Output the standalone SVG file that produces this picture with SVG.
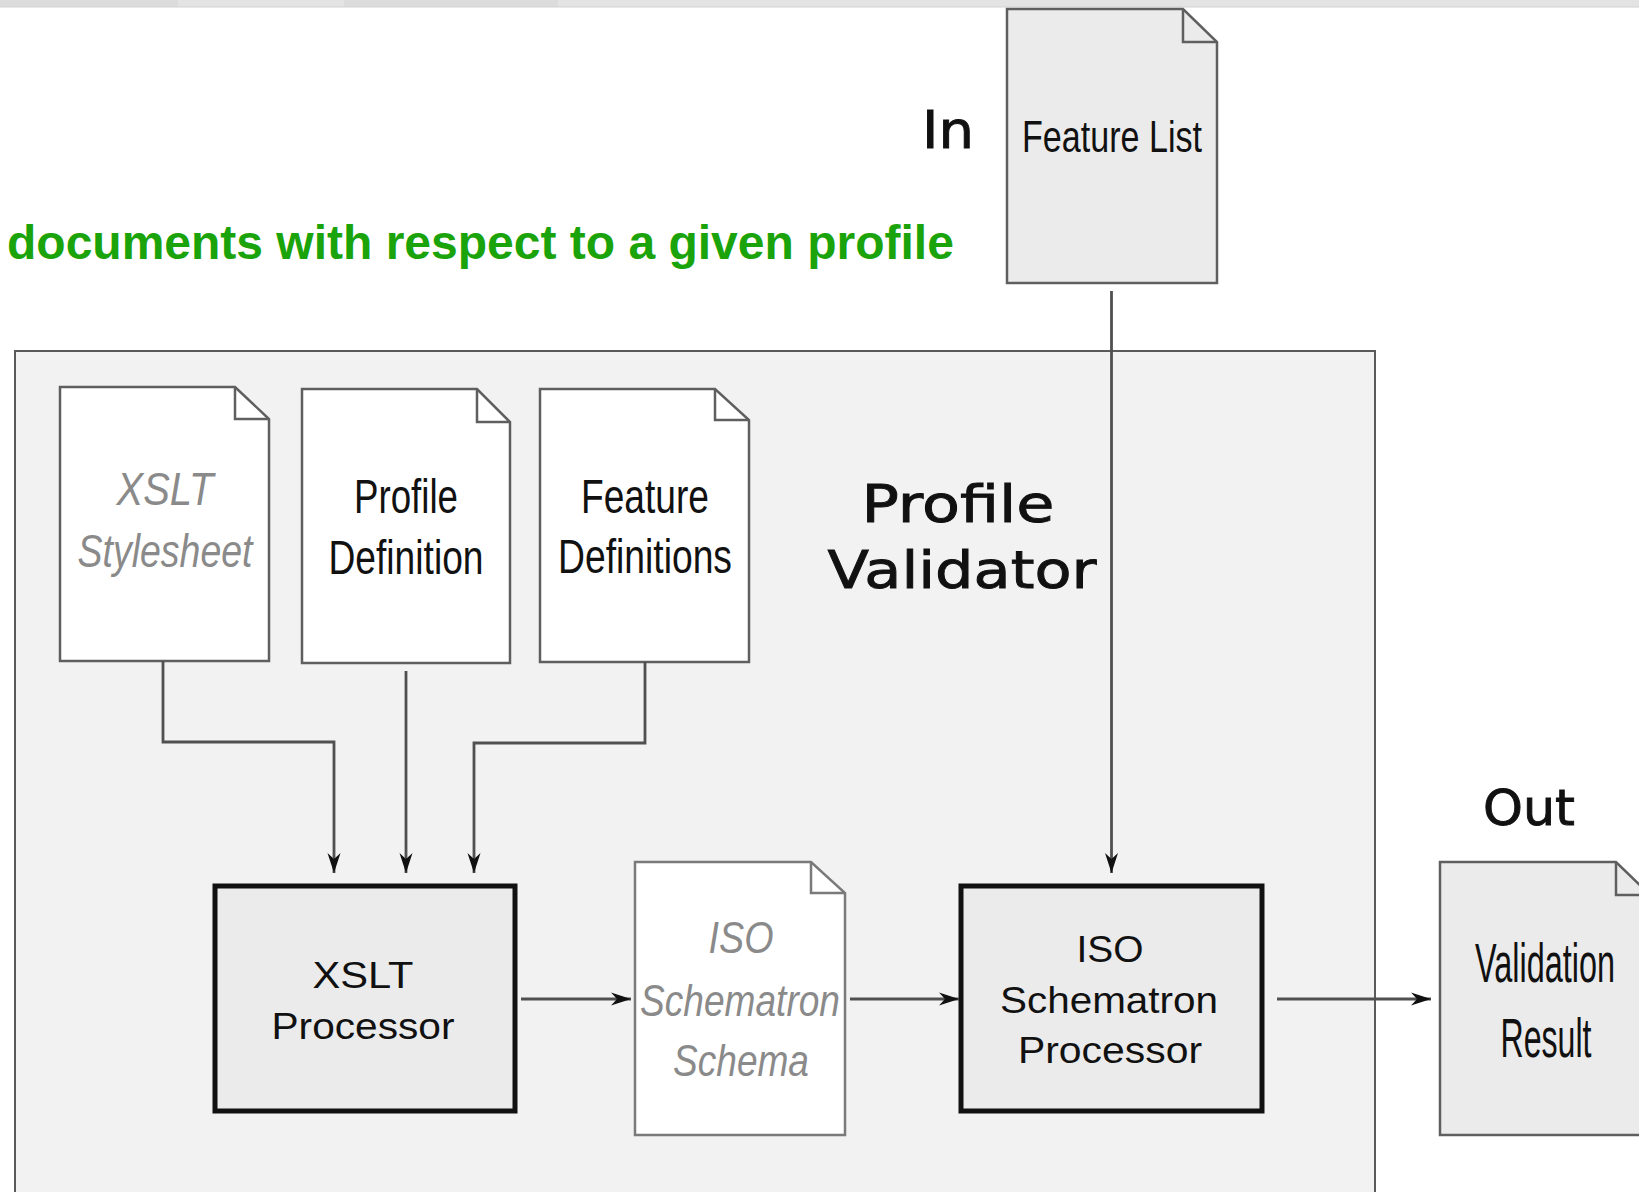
<svg xmlns="http://www.w3.org/2000/svg" width="1639" height="1192" viewBox="0 0 1639 1192">
  <style>
    .doc { stroke: #5f5f5f; stroke-width: 2.5; stroke-linejoin: miter; }
    .docg { fill: #ebebeb; }
    .docw { fill: #ffffff; }
    .fold { fill: none; stroke: #5f5f5f; stroke-width: 2.5; }
    .proc { fill: #ebebeb; stroke: #111; stroke-width: 5; }
    .conn { fill: none; stroke: #505050; stroke-width: 2.8; }
    .t { font-family: "Liberation Sans", Arial, sans-serif; fill: #111; text-anchor: middle; }
    .ti { font-family: "Liberation Sans", Arial, sans-serif; fill: #8a8a8a; font-style: italic; text-anchor: middle; }
    .big { font-family: "DejaVu Sans", Verdana, sans-serif; fill: #111; stroke: #111; stroke-width: 0.9; text-anchor: middle; }
  </style>
  <defs>
    <marker id="arr" viewBox="-20 -7 20 14" refX="0" refY="0" markerWidth="20" markerHeight="14" markerUnits="userSpaceOnUse" orient="auto">
      <path d="M0,0 L-20,-6.5 L-14,0 L-20,6.5 Z" fill="#111"/>
    </marker>
  </defs>

  <rect x="0" y="0" width="1639" height="1192" fill="#ffffff"/>
  <g id="topbar">
    <rect x="0" y="0" width="1639" height="7" fill="#e3e3e3"/>
    <rect x="0" y="0" width="178" height="7" fill="#dcdcdc"/>
    <rect x="344" y="0" width="214" height="7" fill="#dcdcdc"/>
    <line x1="0" y1="7" x2="1639" y2="7" stroke="#d2d2d2" stroke-width="1"/>
  </g>

  <text x="7" y="259" font-family="Liberation Sans, Arial, sans-serif" font-weight="bold" font-size="48" fill="#1aa30a">documents with respect to a given profile</text>

  <g id="container">
    <rect x="15" y="351" width="1360" height="900" fill="#f2f2f2" stroke="#5a5a5a" stroke-width="2"/>
    <text class="big" x="958" y="522" font-size="52" textLength="193" lengthAdjust="spacingAndGlyphs">Profile</text>
    <text class="big" x="962" y="588" font-size="52" textLength="269" lengthAdjust="spacingAndGlyphs">Validator</text>
  </g>

  <text class="big" x="948" y="148" font-size="52" textLength="52" lengthAdjust="spacingAndGlyphs">In</text>
  <text class="big" x="1529" y="825" font-size="50" textLength="92" lengthAdjust="spacingAndGlyphs">Out</text>

  <g id="feature-list">
    <path class="doc docg" d="M1007,9 H1183 L1217,42 V283 H1007 Z"/>
    <path class="fold" d="M1183,9 V42 H1217"/>
    <text class="t" x="1112" y="152" font-size="44" textLength="180" lengthAdjust="spacingAndGlyphs">Feature List</text>
  </g>

  <g id="xslt-stylesheet">
    <path class="doc docw" d="M60,387 H235 L269,419 V661 H60 Z"/>
    <path class="fold" d="M235,387 V419 H269"/>
    <text class="ti" x="165" y="505" font-size="47" textLength="97" lengthAdjust="spacingAndGlyphs">XSLT</text>
    <text class="ti" x="165" y="567" font-size="47" textLength="175" lengthAdjust="spacingAndGlyphs">Stylesheet</text>
  </g>

  <g id="profile-definition">
    <path class="doc docw" d="M302,389 H477 L510,422 V663 H302 Z"/>
    <path class="fold" d="M477,389 V422 H510"/>
    <text class="t" x="406" y="513" font-size="48" textLength="104" lengthAdjust="spacingAndGlyphs">Profile</text>
    <text class="t" x="406" y="574" font-size="48" textLength="155" lengthAdjust="spacingAndGlyphs">Definition</text>
  </g>

  <g id="feature-definitions">
    <path class="doc docw" d="M540,389 H715 L749,420 V662 H540 Z"/>
    <path class="fold" d="M715,389 V420 H749"/>
    <text class="t" x="645" y="513" font-size="48" textLength="128" lengthAdjust="spacingAndGlyphs">Feature</text>
    <text class="t" x="645" y="573" font-size="48" textLength="174" lengthAdjust="spacingAndGlyphs">Definitions</text>
  </g>

  <g id="xslt-processor">
    <rect class="proc" x="215" y="886" width="300" height="225"/>
    <text class="t" x="363" y="988" font-size="37" textLength="101" lengthAdjust="spacingAndGlyphs">XSLT</text>
    <text class="t" x="363" y="1039" font-size="37" textLength="183" lengthAdjust="spacingAndGlyphs">Processor</text>
  </g>

  <g id="iso-schema">
    <path class="doc docw" d="M635,862 H811 L845,893 V1135 H635 Z" style="stroke:#7a7a7a"/>
    <path class="fold" d="M811,862 V893 H845" style="stroke:#7a7a7a"/>
    <text class="ti" x="741" y="953" font-size="44" textLength="65" lengthAdjust="spacingAndGlyphs">ISO</text>
    <text class="ti" x="740" y="1016" font-size="44" textLength="200" lengthAdjust="spacingAndGlyphs">Schematron</text>
    <text class="ti" x="741" y="1076" font-size="44" textLength="136" lengthAdjust="spacingAndGlyphs">Schema</text>
  </g>

  <g id="iso-processor">
    <rect class="proc" x="961" y="886" width="301" height="225"/>
    <text class="t" x="1110" y="962" font-size="36" textLength="67" lengthAdjust="spacingAndGlyphs">ISO</text>
    <text class="t" x="1109" y="1013" font-size="36" textLength="218" lengthAdjust="spacingAndGlyphs">Schematron</text>
    <text class="t" x="1110" y="1063" font-size="36" textLength="184" lengthAdjust="spacingAndGlyphs">Processor</text>
  </g>

  <g id="validation-result">
    <path class="doc docg" d="M1440,862 H1616 L1650,895 V1135 H1440 Z"/>
    <path class="fold" d="M1616,862 V895 H1650"/>
    <text class="t" x="1545" y="982" font-size="55" textLength="140" lengthAdjust="spacingAndGlyphs">Validation</text>
    <text class="t" x="1546" y="1057" font-size="55" textLength="91" lengthAdjust="spacingAndGlyphs">Result</text>
  </g>

  <g id="connectors">
    <path class="conn" d="M1111.5,291 V873" marker-end="url(#arr)"/>
    <path class="conn" d="M163,661 V742 H334 V873" marker-end="url(#arr)"/>
    <path class="conn" d="M406,671 V873" marker-end="url(#arr)"/>
    <path class="conn" d="M645,662 V743 H474 V873" marker-end="url(#arr)"/>
    <path class="conn" d="M521,999 H631" marker-end="url(#arr)"/>
    <path class="conn" d="M850,999 H959" marker-end="url(#arr)"/>
    <path class="conn" d="M1277,999 H1431" marker-end="url(#arr)"/>
  </g>
</svg>
